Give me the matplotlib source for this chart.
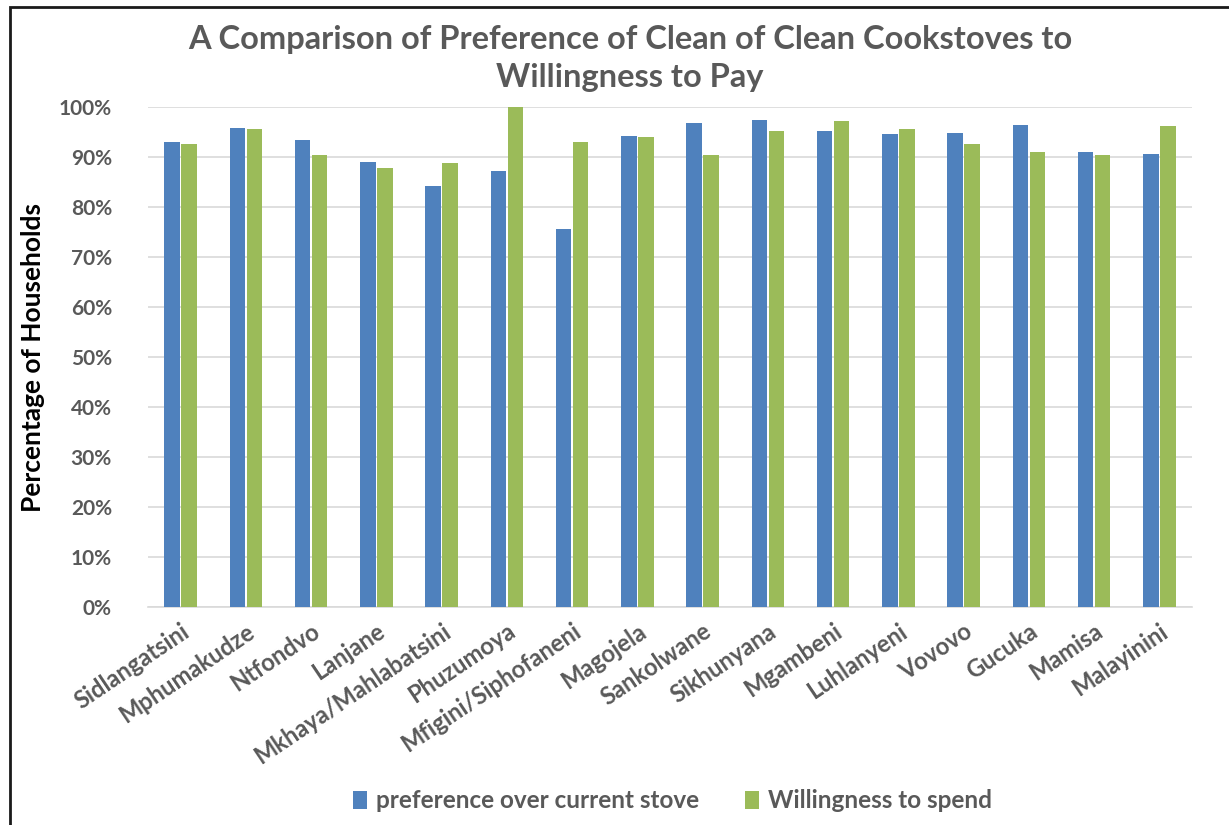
import matplotlib
matplotlib.use("Agg")
import matplotlib.pyplot as plt
import numpy as np
from matplotlib.patches import Rectangle
from matplotlib.ticker import PercentFormatter

plt.rcParams['font.family'] = ['Lato', 'DejaVu Sans']

villages = ["Sidlangatsini", "Mphumakudze", "Ntfondvo", "Lanjane",
            "Mkhaya/Mahlabatsini", "Phuzumoya", "Mfigini/Siphofaneni",
            "Magojela", "Sankolwane", "Sikhunyana", "Mgambeni",
            "Luhlanyeni", "Vovovo", "Gucuka", "Mamisa", "Malayinini"]
preference = [93.0, 95.9, 93.4, 89.1, 84.3, 87.2, 75.6, 94.3,
              96.8, 97.5, 95.3, 94.6, 94.9, 96.5, 91.0, 90.7]
willingness = [92.7, 95.6, 90.4, 87.8, 88.8, 100.0, 93.0, 94.0,
               90.4, 95.3, 97.2, 95.6, 92.7, 91.0, 90.4, 96.2]
series_names = ["preference over current stove", "Willingness to spend"]
yticks = [0, 10, 20, 30, 40, 50, 60, 70, 80, 90, 100]

blue = "#4F81BD"
green = "#9BBB59"
grey_text = "#595959"

fig = plt.figure(figsize=(12.29, 8.25), dpi=100)
fig.patch.set_facecolor("white")

# chart frame (extends past the right and bottom edges)
fig.add_artist(Rectangle((10 / 1229, -0.05), 1.2, (825 - 7) / 825 + 0.05,
                         transform=fig.transFigure, fill=False,
                         edgecolor="#1a1a1a", linewidth=2.0))

ax = fig.add_axes([148 / 1229, 1 - 607 / 825, (1192 - 148) / 1229, (607 - 107.3) / 825])

x = np.arange(len(villages))
w = 0.235
gap = 0.025
ax.bar(x - (w + gap) / 2, preference, width=w, color=blue, label=series_names[0], zorder=3)
ax.bar(x + (w + gap) / 2, willingness, width=w, color=green, label=series_names[1], zorder=3)

ax.set_xlim(-0.5, len(villages) - 0.5)
ax.set_ylim(0, 100)
ax.set_yticks(yticks)
ax.yaxis.set_major_formatter(PercentFormatter(decimals=0))
ax.grid(axis="y", color="#D9D9D9", linewidth=1.2, zorder=0)
ax.set_axisbelow(True)
for s in ["top", "right", "left"]:
    ax.spines[s].set_visible(False)
ax.spines["bottom"].set_color("#D9D9D9")
ax.spines["bottom"].set_linewidth(1.2)
ax.tick_params(axis="both", length=0)
ax.tick_params(axis="y", pad=26)
for lbl in ax.get_yticklabels():
    lbl.set_fontsize(15)
    lbl.set_fontweight("bold")
    lbl.set_color(grey_text)

ax.set_xticks(x)
ax.set_xticklabels(villages, rotation=34, ha="right", rotation_mode="anchor",
                   fontsize=17, fontweight="bold", color=grey_text)
ax.tick_params(axis="x", pad=9)

ax.set_ylabel("Percentage of Households", fontsize=19, fontweight="bold",
              color="black", labelpad=10)

fig.text(0.5126, 1 - 40 / 825, "A Comparison of Preference of Clean of Clean Cookstoves to",
         ha="center", va="center", fontsize=23.5, fontweight="bold", color=grey_text)
fig.text(0.5126, 1 - 77 / 825, "Willingness to Pay",
         ha="center", va="center", fontsize=23.5, fontweight="bold", color=grey_text)

fig.legend(loc="center", bbox_to_anchor=(0.547, 1 - 801 / 825), ncol=2,
           frameon=False, prop={"size": 17.5, "weight": "bold"},
           handlelength=0.58, handleheight=0.75, handletextpad=0.35,
           columnspacing=1.9, labelcolor=grey_text)

fig.savefig("out.png", dpi=100, facecolor="white")
